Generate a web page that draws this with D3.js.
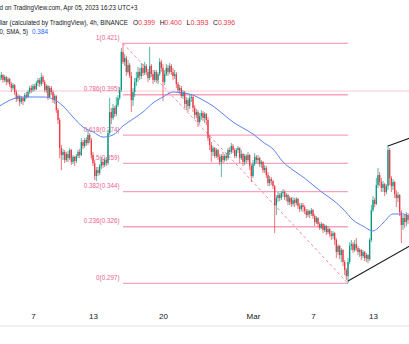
<!DOCTYPE html>
<html><head><meta charset="utf-8">
<script src="https://cdn.jsdelivr.net/npm/d3@7"></script>
<style>html,body{margin:0;padding:0;background:#fff;overflow:hidden}</style>
</head><body><svg id="c" width="409" height="344"></svg>
<script>
// ---- data (4h candles, Cardano / Dollar) ----
const startTime = "2023-02-03T16:00:00Z";
const firstOpen = .4023;
const close = [.4034,.4049,.4023,.4039,.4013,.4028,.4002,.3982,
.3997,.3961,.3925,.3940,.3909,.3930,.3914,.3945,.3935,.3961,.3982,.3971,
.3992,.3976,.4008,.4023,.4002,.4039,.4013,.3971,.3992,.3935,.3982,.3961,
.3919,.3940,.3867,.3816,.3670,.3634,.3650,.3608,.3639,.3618,.3660,.3598,
.3624,.3603,.3629,.3650,.3634,.3701,.3681,.3712,.3696,.3738,.3712,.3634,
.3592,.3525,.3556,.3541,.3577,.3598,.3582,.3608,.3592,.3748,.3857,.3826,
.3878,.3847,.3893,.3930,.3971,.4169,.4117,.4137,.4065,.4101,.4044,.3919,
.3961,.4013,.4034,.4065,.4044,.4086,.4060,.4096,.4065,.4034,.4096,.4054,
.4023,.4065,.4023,.4054,.4117,.4086,.4013,.4054,.4086,.4065,.4096,.4065,
.4044,.4054,.4002,.3971,.3982,.3940,.3961,.3899,.3919,.3888,.3930,.3935,
.3878,.3842,.3857,.3805,.3836,.3852,.3826,.3847,.3816,.3722,.3686,.3650,
.3670,.3629,.3660,.3624,.3598,.3629,.3608,.3629,.3618,.3660,.3650,.3681,
.3660,.3629,.3660,.3670,.3618,.3639,.3598,.3629,.3608,.3634,.3577,.3525,
.3587,.3624,.3608,.3618,.3587,.3598,.3556,.3567,.3530,.3489,.3509,.3499,
.3473,.3374,.3411,.3426,.3411,.3437,.3442,.3416,.3426,.3390,.3411,.3380,
.3400,.3385,.3406,.3369,.3354,.3374,.3364,.3343,.3323,.3343,.3328,.3348,
.3317,.3286,.3307,.3276,.3255,.3276,.3245,.3265,.3234,.3250,.3224,.3214,
.3229,.3193,.3131,.3162,.3115,.3141,.3079,.3037,.3006,.3079,.3162,.3172,
.3141,.3172,.3151,.3131,.3141,.3110,.3131,.3099,.3115,.3094,.3193,.3348,
.3400,.3380,.3478,.3530,.3494,.3463,.3483,.3442,.3473,.3660,.3515,.3473,
.3494,.3432,.3411,.3426,.3338,.3271,.3307,.3286,.3323,.3297];
const high = [.4054,.4065,.4054,.4049,.4044,.4039,.4034,.4013,
.4008,.4002,.3971,.3951,.3945,.3940,.3935,.3956,.3961,.3971,.3992,.3997,
.4002,.4002,.4018,.4034,.4034,.4060,.4049,.4023,.4002,.3997,.3992,.3992,
.3971,.3951,.3945,.3878,.3826,.3686,.3665,.3660,.3650,.3655,.3670,.3665,
.3634,.3629,.3639,.3660,.3665,.3722,.3712,.3722,.3727,.3764,.3748,.3722,
.3650,.3608,.3572,.3572,.3587,.3624,.3613,.3618,.3624,.3764,.3930,.3878,
.3899,.3888,.3935,.3945,.3987,.4189,.4213,.4158,.4148,.4127,.4111,.4065,
.3982,.4034,.4065,.4091,.4086,.4111,.4106,.4117,.4106,.4080,.4195,.4106,
.4075,.4075,.4075,.4065,.4137,.4127,.4106,.4075,.4106,.4101,.4111,.4106,
.4086,.4075,.4065,.4013,.3997,.3992,.3971,.3966,.3935,.3930,.3945,.3951,
.3940,.3893,.3873,.3867,.3852,.3867,.3862,.3857,.3852,.3831,.3738,.3701,
.3681,.3675,.3670,.3665,.3639,.3639,.3650,.3639,.3644,.3670,.3675,.3696,
.3691,.3670,.3670,.3681,.3675,.3660,.3644,.3639,.3639,.3650,.3639,.3587,
.3608,.3644,.3634,.3634,.3624,.3608,.3603,.3582,.3577,.3546,.3525,.3520,
.3504,.3478,.3426,.3442,.3437,.3447,.3457,.3452,.3437,.3432,.3421,.3416,
.3416,.3411,.3416,.3411,.3385,.3385,.3385,.3374,.3354,.3354,.3348,.3359,
.3354,.3328,.3317,.3312,.3286,.3286,.3281,.3276,.3271,.3265,.3255,.3240,
.3240,.3234,.3203,.3172,.3167,.3151,.3146,.3089,.3047,.3099,.3182,.3193,
.3182,.3193,.3203,.3162,.3151,.3146,.3141,.3136,.3126,.3120,.3203,.3374,
.3421,.3411,.3515,.3567,.3546,.3515,.3499,.3489,.3483,.3686,.3670,.3525,
.3509,.3499,.3452,.3442,.3432,.3348,.3323,.3328,.3338,.3333];
const low = [.4013,.4023,.4008,.4013,.3997,.4002,.3987,.3961,
.3971,.3945,.3909,.3914,.3888,.3899,.3893,.3909,.3925,.3930,.3951,.3956,
.3961,.3966,.3971,.3992,.3987,.3992,.4002,.3961,.3956,.3919,.3930,.3945,
.3904,.3899,.3852,.3795,.3618,.3556,.3608,.3592,.3598,.3598,.3608,.3582,
.3587,.3577,.3592,.3618,.3618,.3629,.3665,.3670,.3681,.3686,.3696,.3618,
.3577,.3504,.3499,.3525,.3530,.3561,.3567,.3572,.3577,.3582,.3738,.3795,
.3816,.3831,.3836,.3883,.3919,.3961,.4106,.4096,.4044,.4054,.4034,.3857,
.3888,.3935,.3992,.4013,.4023,.4028,.4044,.4049,.4049,.4013,.4023,.4039,
.4002,.4013,.4008,.4002,.4044,.4065,.3914,.3997,.4044,.4044,.4054,.4049,
.4023,.4028,.3982,.3956,.3951,.3930,.3925,.3878,.3867,.3857,.3873,.3909,
.3857,.3821,.3826,.3779,.3795,.3816,.3810,.3800,.3790,.3707,.3660,.3598,
.3629,.3618,.3618,.3608,.3582,.3520,.3592,.3598,.3603,.3608,.3634,.3639,
.3644,.3618,.3618,.3644,.3592,.3608,.3577,.3582,.3592,.3598,.3556,.3494,
.3515,.3577,.3592,.3587,.3572,.3567,.3541,.3541,.3515,.3473,.3473,.3478,
.3457,.3229,.3323,.3390,.3395,.3400,.3416,.3400,.3395,.3374,.3374,.3364,
.3369,.3364,.3374,.3354,.3338,.3343,.3338,.3328,.3307,.3312,.3307,.3317,
.3302,.3265,.3276,.3260,.3245,.3250,.3229,.3234,.3219,.3224,.3208,.3193,
.3198,.3167,.3099,.3115,.3094,.3079,.3058,.3011,.2985,.2968,.3068,.3141,
.3126,.3131,.3136,.3115,.3105,.3089,.3099,.3084,.3079,.3073,.3084,.3182,
.3338,.3364,.3374,.3463,.3473,.3442,.3442,.3421,.3432,.3452,.3478,.3442,
.3452,.3411,.3364,.3390,.3317,.3177,.3245,.3255,.3265,.3276];

const smaTimes = ["2023-02-03T12:00Z","2023-02-04","2023-02-05","2023-02-06","2023-02-07","2023-02-08","2023-02-09","2023-02-10","2023-02-11","2023-02-12","2023-02-13","2023-02-14","2023-02-15","2023-02-16","2023-02-17","2023-02-18","2023-02-19","2023-02-20","2023-02-21","2023-02-22","2023-02-23","2023-02-24","2023-02-25","2023-02-26","2023-02-27","2023-02-28","2023-03-01","2023-03-02","2023-03-03","2023-03-04","2023-03-05","2023-03-06","2023-03-07","2023-03-08","2023-03-09","2023-03-10","2023-03-11","2023-03-12","2023-03-13","2023-03-14","2023-03-15","2023-03-16","2023-03-16T16:00Z"];
const smaValues = [.3883,.3899,.3925,.3935,.3935,.3935,.3925,.3888,.3831,.3779,.3754,.3727,.3738,.3785,.3821,.3857,.3904,.3935,.3961,.3956,.3945,.3919,.3888,.3847,.3805,.3774,.3743,.3701,.3665,.3598,.3556,.3520,.3478,.3437,.3400,.3354,.3297,.3265,.3240,.3281,.3328,.3328,.3312];

const fibHigh = .4213, fibLow = .2968;
const fibStart = "2023-02-16T00:00Z", fibEnd = "2023-03-10T12:00Z";
const fibLevels = [0, 0.236, 0.382, 0.5, 0.618, 0.786, 1];
const fibLevelText = ["0", "0.236", "0.382", "0.5", "0.618", "0.786", "1"];
const hLinePrice = .3966;
const lowerTrend = [["2023-03-10T12:00Z", .2980], ["2023-03-17T00:00Z", .3172]];
const upperTrend = [["2023-03-14T12:00Z", .3681], ["2023-03-17T00:00Z", .3728]];

const tickDates = ["2023-02-07","2023-02-13","2023-02-20","2023-03-01","2023-03-07","2023-03-13"];
const tickLabels = ["7","13","20","Mar","7","13"];

const header1 = "d on TradingView.com, Apr 05, 2023 16:23 UTC+3";
const header2 = "llar (calculated by TradingView), 4h, BINANCE";
const ohlcKeys = ["O","H","L","C"];
const ohlcVals = ["0.399","0.400","0.393","0.396"];
const header3 = "0, SMA, 5)";
const smaLast = "0.384";

// ---- drawing ----
const W = 409, H = 344;
const UP = "#089981", DOWN = "#f23645";
const FONT = "'Liberation Sans', Arial, sans-serif";
const svg = d3.select("#c");
const x = d3.scaleUtc().domain([new Date("2023-02-03T16:48:00Z"), new Date("2023-03-16T14:24:00Z")]).range([0, W]);
const y = d3.scaleLinear().domain([.297, .421]).range([283, 44]);

svg.append("defs").append("clipPath").attr("id","pane").append("rect")
  .attr("x",0).attr("y",0).attr("width",W).attr("height",305);
const pane = svg.append("g").attr("clip-path","url(#pane)");

const t0 = new Date(startTime).getTime();
const candles = close.map((c,i)=>({t:new Date(t0 + i*4*3600e3), o: i ? close[i-1] : firstOpen, c, h: high[i], l: low[i]}));

// faint horizontal line
pane.append("line").attr("x1",0).attr("x2",W).attr("y1",y(hLinePrice)).attr("y2",y(hLinePrice))
  .attr("stroke","#f9c9d7").attr("stroke-width",1);

// fib retracement
const fx1 = x(new Date(fibStart)), fx2 = x(new Date(fibEnd));
const fib = pane.append("g");
fib.selectAll("line.lvl").data(fibLevels).join("line").attr("class","lvl")
  .attr("x1",fx1).attr("x2",fx2)
  .attr("y1",d=>y(fibLow + d*(fibHigh-fibLow))).attr("y2",d=>y(fibLow + d*(fibHigh-fibLow)))
  .attr("stroke","#f7a3bc").attr("stroke-width",1.3);
fib.selectAll("text").data(fibLevels).join("text")
  .attr("x",fx1-3.5).attr("y",d=>y(fibLow + d*(fibHigh-fibLow))-3.5)
  .attr("text-anchor","end").attr("font-family",FONT).attr("font-size",6.3).attr("fill","#ee5f8d")
  .text((d,i)=>fibLevelText[i]+"("+(fibLow + d*(fibHigh-fibLow)).toFixed(3)+")");
fib.append("line").attr("x1",fx1).attr("y1",y(fibHigh)).attr("x2",fx2).attr("y2",y(fibLow))
  .attr("stroke","#f48fb1").attr("stroke-width",1).attr("stroke-dasharray","3,2.5");

// candles
const cw = 1.3;
const cg = pane.append("g");
cg.selectAll("line").data(candles).join("line")
  .attr("x1",d=>x(d.t)).attr("x2",d=>x(d.t)).attr("y1",d=>y(d.h)).attr("y2",d=>y(d.l))
  .attr("stroke",d=>d.c>=d.o?UP:DOWN).attr("stroke-width",0.7);
cg.selectAll("rect").data(candles).join("rect")
  .attr("x",d=>x(d.t)-cw/2).attr("width",cw)
  .attr("y",d=>y(Math.max(d.o,d.c))).attr("height",d=>Math.max(0.8, Math.abs(y(d.o)-y(d.c))))
  .attr("fill",d=>d.c>=d.o?UP:DOWN);

// SMA
const sma = smaTimes.map((t,i)=>({t:new Date(t.length===10? t+"T00:00:00Z" : t), v:smaValues[i]}));
pane.append("path").datum(sma)
  .attr("d", d3.line().x(d=>x(d.t)).y(d=>y(d.v)).curve(d3.curveMonotoneX))
  .attr("fill","none").attr("stroke","#5b84f0").attr("stroke-width",1);

// trend lines
[lowerTrend, upperTrend].forEach(tl=>{
  pane.append("line")
    .attr("x1",x(new Date(tl[0][0]))).attr("y1",y(tl[0][1]))
    .attr("x2",x(new Date(tl[1][0]))).attr("y2",y(tl[1][1]))
    .attr("stroke","#1e1e1e").attr("stroke-width",1.1);
});

// header texts
const hd = svg.append("g").attr("font-family",FONT).attr("fill","#131722").attr("font-size",6.4);
hd.append("text").attr("x",-0.5).attr("y",10).attr("textLength",138).attr("lengthAdjust","spacingAndGlyphs").text(header1);
hd.append("text").attr("x",-0.5).attr("y",25).attr("textLength",128.5).attr("lengthAdjust","spacingAndGlyphs").text(header2);
const keyX = [133, 159.7, 186.4, 213];
ohlcKeys.forEach((k,i)=>{
  const t = hd.append("text").attr("x",keyX[i]).attr("y",25)
    .attr("textLength",22).attr("lengthAdjust","spacingAndGlyphs");
  t.append("tspan").text(k);
  t.append("tspan").attr("fill",DOWN).text(ohlcVals[i]);
});
hd.append("text").attr("x",-0.5).attr("y",33.5).attr("textLength",28.5).attr("lengthAdjust","spacingAndGlyphs").text(header3);
hd.append("text").attr("x",32).attr("y",33.5).attr("fill","#2962ff").text(smaLast);

// x axis
const ax = svg.append("g").attr("transform","translate(0,313)")
  .call(d3.axisBottom(x).tickValues(tickDates.map(d=>new Date(d+"T00:00:00Z")))
    .tickFormat((d,i)=>tickLabels[i]).tickSize(0).tickPadding(0));
ax.select(".domain").remove();
ax.selectAll("text").attr("font-family",FONT).attr("font-size",8).attr("fill","#131722");

svg.append("line").attr("x1",0).attr("x2",W).attr("y1",326).attr("y2",326)
  .attr("stroke","#e0e3eb").attr("stroke-width",1);
</script></body></html>
